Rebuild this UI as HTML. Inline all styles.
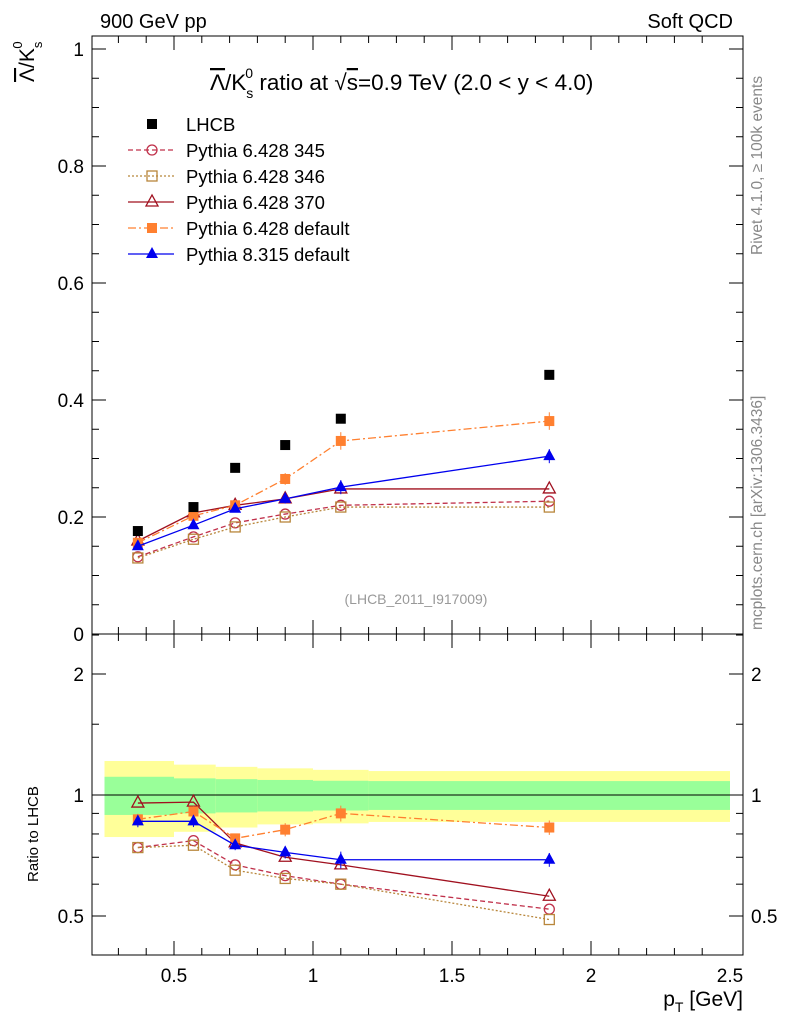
<!DOCTYPE html>
<html><head><meta charset="utf-8"><style>
body{margin:0;background:#fff;}
svg text{font-family:"Liberation Sans",sans-serif;}
</style></head><body>
<svg id="c" width="786" height="1024" xmlns="http://www.w3.org/2000/svg"></svg>
<script>
const xVals=[0.37,0.57,0.72,0.9,1.1,1.85];
const binEdges=[0.25,0.5,0.65,0.8,1.0,1.2,2.5];
const lhcb=[0.176,0.217,0.284,0.323,0.368,0.443];
const p345=[0.132,0.166,0.19,0.205,0.22,0.227];
const p346=[0.13,0.162,0.183,0.2,0.217,0.217];
const p370=[0.159,0.207,0.22,0.231,0.248,0.248];
const p6def=[0.156,0.202,0.22,0.265,0.33,0.364];
const p8def=[0.15,0.186,0.214,0.231,0.251,0.304];
const r345=[0.74,0.77,0.67,0.63,0.60,0.52];
const r346=[0.74,0.75,0.65,0.62,0.60,0.49];
const r370=[0.955,0.96,0.76,0.70,0.67,0.56];
const r6def=[0.87,0.91,0.78,0.82,0.90,0.83];
const r8def=[0.86,0.86,0.75,0.72,0.69,0.69];
const errOrange=[0.005,0.006,0.006,0.01,0.015,0.015];
const errBlue=[0.005,0.006,0.006,0.008,0.012,0.012];
const yellowUp=[1.215,1.19,1.175,1.165,1.155,1.147];
const yellowLo=[0.786,0.81,0.83,0.845,0.85,0.857];
const greenUp=[1.11,1.1,1.095,1.09,1.085,1.083];
const greenLo=[0.892,0.9,0.905,0.91,0.915,0.918];
const mainTicks=[0,0.2,0.4,0.6,0.8,1];
const mainTickLabels=["0","0.2","0.4","0.6","0.8","1"];
const xTicks=[0.5,1,1.5,2,2.5];
const xTickLabels=["0.5","1","1.5","2","2.5"];
const ratioTicks=[0.5,1,2];
const ratioTickLabels=["0.5","1","2"];

const NS="http://www.w3.org/2000/svg";
const svg=document.getElementById('c');
function el(t,a,p){const e=document.createElementNS(NS,t);for(const k in a)e.setAttribute(k,a[k]);(p||svg).appendChild(e);return e;}
const L=92,R=743,T=36,M=634,B=955;
const X=v=>174+(v-0.5)*278;
const Y=v=>634-585*v;
const RY=r=>795-121*Math.log2(r);

for(let i=0;i<6;i++){
 const x0=X(binEdges[i]),x1=X(binEdges[i+1]);
 const yb=el('rect',{x:x0,y:RY(yellowUp[i]),width:x1-x0,height:RY(yellowLo[i])-RY(yellowUp[i]),fill:'#ffff99'});
 
 
 const gb=el('rect',{x:x0,y:RY(greenUp[i]),width:x1-x0,height:RY(greenLo[i])-RY(greenUp[i]),fill:'#99ff99'});
 
 
}
el('line',{x1:L,x2:R,y1:RY(1),y2:RY(1),stroke:'#000','stroke-width':1});

el('rect',{x:L,y:T,width:R-L,height:M-T,fill:'none',stroke:'#000'});
el('rect',{x:L,y:M,width:R-L,height:B-M,fill:'none',stroke:'#000'});

function txt(x,y,s,size,anchor,extra){const t=el('text',Object.assign({x:x,y:y,'font-size':size,'text-anchor':anchor||'start'},extra||{}));t.textContent=s;return t;}

mainTicks.forEach((v,i)=>{
 const y=Y(v);
 el('line',{x1:L,x2:L+14,y1:y,y2:y,stroke:'#000'});el('line',{x1:R,x2:R-14,y1:y,y2:y,stroke:'#000'});
 const t=txt(L-8,y+7,mainTickLabels[i],19,'end');
 
 
 if(i<5)for(let k=1;k<4;k++){const yy=Y(v+k*0.05);el('line',{x1:L,x2:L+7,y1:yy,y2:yy,stroke:'#000'});el('line',{x1:R,x2:R-7,y1:yy,y2:yy,stroke:'#000'});}
});
for(let v=0.3;v<=2.5;v+=0.1){const x=X(v);const major=Math.abs(v*2-Math.round(v*2))<1e-6;const h=major?14:7;
 el('line',{x1:x,x2:x,y1:M,y2:M-h,stroke:'#000'});el('line',{x1:x,x2:x,y1:M,y2:M+h,stroke:'#000'});
 el('line',{x1:x,x2:x,y1:B,y2:B-h,stroke:'#000'});el('line',{x1:x,x2:x,y1:T,y2:T+h,stroke:'#000'});}
xTicks.forEach((v,i)=>{const t=txt(X(v),982,xTickLabels[i],19,'middle');
 
 });
ratioTicks.forEach((v,i)=>{const y=RY(v);
 el('line',{x1:L,x2:L+14,y1:y,y2:y,stroke:'#000'});el('line',{x1:R,x2:R-14,y1:y,y2:y,stroke:'#000'});
 const t=txt(L-8,y+7,ratioTickLabels[i],19,'end');
 
 
 const t2=txt(R+8,y+7,ratioTickLabels[i],19,'start');
 
 });
[0.6,0.7,0.8,0.9,1.5,2.5].forEach(v=>{const y=RY(v);el('line',{x1:L,x2:L+7,y1:y,y2:y,stroke:'#000'});el('line',{x1:R,x2:R-7,y1:y,y2:y,stroke:'#000'});});

function marker(type,x,y,c,g){
 if(type==='sq')el('rect',{x:x-5,y:y-5,width:10,height:10,fill:c},g);
 if(type==='osq')el('rect',{x:x-5,y:y-5,width:10,height:10,fill:'none',stroke:c,'stroke-width':1.3},g);
 if(type==='oc')el('circle',{cx:x,cy:y,r:5,fill:'none',stroke:c,'stroke-width':1.3},g);
 if(type==='otri')el('polygon',{points:`${x},${y-7} ${x-6},${y+4} ${x+6},${y+4}`,fill:'none',stroke:c,'stroke-width':1.3},g);
 if(type==='tri')el('polygon',{points:`${x},${y-7} ${x-6},${y+4} ${x+6},${y+4}`,fill:c},g);
}
const series=[
 {name:'pythia-6428-345',d:p345,r:r345,c:'#c0304a',m:'oc',dash:'5,3',err:null},
 {name:'pythia-6428-346',d:p346,r:r346,c:'#b8863b',m:'osq',dash:'2,2',err:null},
 {name:'pythia-6428-370',d:p370,r:r370,c:'#a0101f',m:'otri',dash:'',err:null},
 {name:'pythia-6428-default',d:p6def,r:r6def,c:'#ff8030',m:'sq',dash:'8,3,2,3',err:errOrange},
 {name:'pythia-8315-default',d:p8def,r:r8def,c:'#0000ee',m:'tri',dash:'',err:errBlue},
];
series.forEach(s=>{
 const g=el('g',{});
 
 
 const pts=s.d.map((v,i)=>X(xVals[i])+','+Y(v)).join(' ');
 el('polyline',{points:pts,fill:'none',stroke:s.c,'stroke-width':1.3,'stroke-dasharray':s.dash},g);
 const rpts=s.r.map((v,i)=>X(xVals[i])+','+RY(v)).join(' ');
 el('polyline',{points:rpts,fill:'none',stroke:s.c,'stroke-width':1.3,'stroke-dasharray':s.dash},g);
 s.d.forEach((v,i)=>{
  const x=X(xVals[i]);const r=s.r[i];
  if(s.err){const e=s.err[i];
   el('line',{x1:x,x2:x,y1:Y(v+e),y2:Y(v-e),stroke:s.c},g);
   el('line',{x1:x,x2:x,y1:RY(r*(1+e/v)),y2:RY(r*(1-e/v)),stroke:s.c},g);}
  marker(s.m,x,Y(v),s.c,g);marker(s.m,x,RY(r),s.c,g);
 });
});
const lg=el('g',{});


lhcb.forEach((v,i)=>marker('sq',X(xVals[i]),Y(v),'#000',lg));

const legend=el('g',{});


const leg=[['LHCB','#000','sq',''],...series.map(s=>[null,s.c,s.m,s.dash])];
const legNames=['LHCB','Pythia 6.428 345','Pythia 6.428 346','Pythia 6.428 370','Pythia 6.428 default','Pythia 8.315 default'];
legNames.forEach((n,i)=>{const y=124+i*26;const l=leg[i];
 if(i>0)el('line',{x1:128,x2:174,y1:y,y2:y,stroke:l[1],'stroke-width':1.3,'stroke-dasharray':l[3]},legend);
 marker(l[2],152,y,l[1],legend);
 const t=txt(186,y+7,n,18.5,'start');legend.appendChild(t);
 
 });

let t;
t=txt(100,28,'900 GeV pp',20);
t=txt(733,28,'Soft QCD',20,'end');
t=el('text',{x:210,y:90,'font-size':22.5});t.innerHTML='<tspan text-decoration="overline">Λ</tspan>/K<tspan dy="8" font-size="14">s</tspan><tspan dx="-8" dy="-20" font-size="14">0</tspan><tspan dy="12"> ratio at √</tspan><tspan text-decoration="overline">s</tspan>=0.9 TeV (2.0 &lt; y &lt; 4.0)';

t=el('text',{transform:'translate(34,82) rotate(-90)','font-size':21});t.innerHTML='<tspan text-decoration="overline">Λ</tspan>/K<tspan dy="8" font-size="13">s</tspan><tspan dx="-7" dy="-20" font-size="13">0</tspan>';

t=el('text',{transform:'translate(38,882) rotate(-90)','font-size':15});t.textContent='Ratio to LHCB';

t=el('text',{x:743,y:1006,'font-size':21,'text-anchor':'end'});t.innerHTML='p<tspan dy="6" font-size="14">T</tspan><tspan dy="-6"> [GeV]</tspan>';

t=txt(416,604,'(LHCB_2011_I917009)',14,'middle',{fill:'#999'});
t=el('text',{transform:'translate(762,255) rotate(-90)','font-size':15.5,fill:'#888'});t.textContent='Rivet 4.1.0, ≥ 100k events';

t=el('text',{transform:'translate(762,630) rotate(-90)','font-size':15.5,fill:'#888'});t.textContent='mcplots.cern.ch [arXiv:1306.3436]';

</script>
</body></html>
